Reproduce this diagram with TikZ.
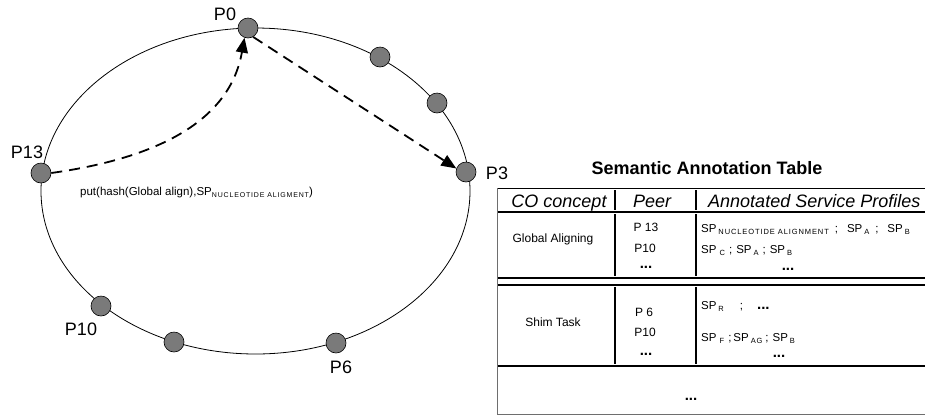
\documentclass[tikz,border=0pt]{standalone}
\usepackage{fontspec}
\setmainfont{Liberation Sans}
\newfontfamily\subfont[LetterSpace=12]{Liberation Sans}
\usetikzlibrary{arrows.meta}
\newcommand{\setfs}[1]{\fontsize{#1}{#1}\selectfont}
\newcommand{\dsub}[1]{\raisebox{-0.35ex}{\subfont\fontsize{7}{7}\selectfont #1}}
\newcommand{\tsub}[1]{\,\raisebox{-0.35ex}{\subfont\fontsize{7.5}{7.5}\selectfont #1}}
\newcommand{\bdots}{{\bfseries\setfs{15}...}}
\definecolor{peergray}{RGB}{122,122,122}
\definecolor{rulegray}{RGB}{110,110,110}
\begin{document}
\begin{tikzpicture}[x=1pt,y=-1pt,
  peer/.style={circle, draw=black, fill=peergray, minimum size=20pt, inner sep=0pt, line width=0.6pt},
  plabel/.style={font=\setfs{18}, inner sep=0pt},
  msg/.style={dash pattern=on 11pt off 7pt, line width=1.8pt, -{Triangle[length=15pt,width=12pt]}},
  cell/.style={font=\setfs{12}, inner sep=0pt, anchor=mid},
  spline/.style={font=\setfs{11.5}, inner sep=0pt, anchor=mid west},
  dotcell/.style={font=\setfs{12}, inner sep=0pt, anchor=base},
  head/.style={font=\itshape\setfs{18}, inner sep=0pt, anchor=base},
  hrule/.style={line width=1.6pt},
  vrule/.style={line width=1.8pt},
  frame/.style={line width=0.8pt, draw=rulegray}]
\useasboundingbox (0,0) rectangle (925,416);

% ring
\draw[line width=0.8pt] (255.5,191) ellipse [x radius=214.5pt, y radius=163pt];

% peers
\node[peer] (P0)  at (248,28)  {};
\node[peer] (Pa)  at (380,57)  {};
\node[peer] (Pb)  at (437,103) {};
\node[peer] (P3)  at (466,172) {};
\node[peer] (P13) at (41,173)  {};
\node[peer] (P10) at (101,306) {};
\node[peer] (Pc)  at (174,342) {};
\node[peer] (P6)  at (336,343) {};

% peer labels
\node[plabel] (lP0)  at (225,14)  {P0};
\node[plabel] (lP13) at (27,152)  {P13};
\node[plabel] (lP3)  at (497,173) {P3};
\node[plabel] (lP10) at (81,329)  {P10};
\node[plabel] (lP6)  at (341,367) {P6};

% messages
\draw[msg] (P13.east) to[out=8,in=-100] (P0.250);
\draw[msg] (P0.-60) -- (P3.160);

\node[font=\setfs{11.5}, inner sep=0pt, anchor=mid west] (put) at (80,193)
  {put(hash(Global align),SP\dsub{NUCLEOTIDE ALIGMENT})};

% table
\node[font=\bfseries\setfs{18}, inner sep=0pt] (title) at (707,168) {Semantic Annotation Table};

\draw[line width=1pt] (497,188) -- (925,188);
\draw[hrule] (497,212) -- (925,212);
\draw[hrule] (497,278) -- (925,278);
\draw[hrule] (497,285) -- (925,285);
\draw[hrule] (497,366) -- (925,366);
\draw[frame] (497,414) -- (925,414);
\draw[frame] (497,188) -- (497,414);
\foreach \cx in {615,696}{
  \draw[vrule] (\cx,190) -- (\cx,210);
  \draw[vrule] (\cx,214) -- (\cx,276);
  \draw[vrule] (\cx,287) -- (\cx,364);
}

\node[head] (hco) at (559,207) {CO concept};
\node[head] (hpeer) at (652,207) {Peer};
\node[head, anchor=base west] (hasp) at (708,207) {Annotated Service Profiles};

% row 1
\node[cell] (ga) at (553,240) {Global Aligning};
\node[cell] (r1p1) at (646,229) {P 13};
\node[cell] (r1p2) at (645,250) {P10};
\node[dotcell] (r1pd) at (646,268) {\bdots};
\node[spline] (r1s1) at (701,230) {SP\tsub{NUCLEOTIDE ALIGNMENT}\hspace{6pt};\hspace{9pt}SP\tsub{A}\hspace{6pt};\hspace{9pt}SP\tsub{B}};
\node[spline] (r1s2) at (701,251) {SP\tsub{\,C}\hspace{4pt};\hspace{4pt}SP\tsub{A}\hspace{4pt};\hspace{4pt}SP\tsub{B}};
\node[dotcell] (r1sd) at (788,270) {\bdots};

% row 2
\node[cell] (st) at (553,324) {Shim Task};
\node[cell] (r2p1) at (644,314) {P 6};
\node[cell] (r2p2) at (645,334) {P10};
\node[dotcell] (r2pd) at (646,355) {\bdots};
\node[spline] (r2s1) at (701,307) {SP\tsub{R}\hspace{16pt};\hspace{14pt}\bdots};
\node[spline] (r2s2) at (701,339) {SP\tsub{\,F}\hspace{4pt};\hspace{2pt}SP\tsub{AG}\hspace{3pt};\hspace{4pt}SP\tsub{B}};
\node[dotcell] (r2sd) at (779,357) {\bdots};

% row 3
\node[dotcell] (r3d) at (691,400) {\bdots};
\end{tikzpicture}
\end{document}
